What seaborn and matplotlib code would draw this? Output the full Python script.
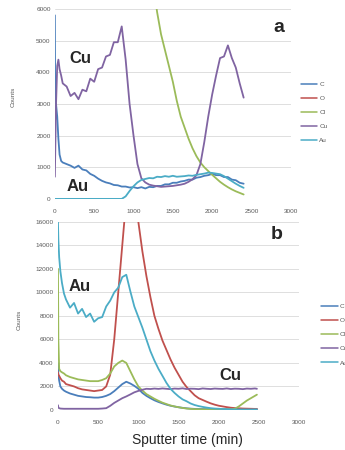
import numpy as np
import pandas as pd
import matplotlib
matplotlib.use('Agg')
import matplotlib.pyplot as plt
from matplotlib.lines import Line2D
import seaborn as sns

sns.set_style('white')
plt.rcParams['font.family'] = ['Liberation Sans', 'DejaVu Sans']

elements = ['C', 'O', 'Cl', 'Cu', 'Au']
colors = {'C': '#4A7EBB', 'O': '#C0504D', 'Cl': '#9BBB59', 'Cu': '#8064A2', 'Au': '#4BACC6'}
nan = np.nan

# ---- panel a ----
x_a = [0, 5, 15, 30, 45, 60, 80, 100, 150, 200, 250, 300, 350, 400, 450, 500,
       550, 600, 650, 700, 750, 800, 850, 900, 950, 1000, 1050, 1100, 1150, 1200,
       1250, 1300, 1350, 1400, 1450, 1500, 1550, 1600, 1650, 1700, 1750, 1800,
       1850, 1900, 1950, 2000, 2050, 2100, 2150, 2200, 2250, 2300, 2350, 2400]
c_a = [5800, 2500, 3000, 2600, 1900, 1400, 1200, 1150, 1100, 1050, 980, 1050, 930, 900,
       790, 730, 640, 570, 520, 490, 440, 430, 390, 390, 360, 370, 340, 370, 330, 380,
       370, 410, 410, 460, 460, 510, 510, 550, 570, 610, 610, 670, 690, 730, 750, 790,
       750, 750, 690, 690, 610, 590, 510, 480]
o_a = [nan] * len(x_a)
cl_a = [nan] * 29 + [7600, 6800, 5900, 5200, 4700, 4200, 3700, 3100, 2600, 2250, 1900,
                     1600, 1350, 1150, 1000, 880, 760, 650, 540, 450, 370, 300, 240,
                     190, 140]
cu_a = [700, 1500, 3000, 4200, 4400, 4100, 3900, 3650, 3550, 3250, 3350, 3150, 3450, 3400,
        3800, 3700, 4100, 4150, 4500, 4550, 4950, 4950, 5450, 4400, 3000, 2000, 1100,
        650, 520, 450, 420, 400, 380, 390, 400, 410, 430, 450, 480, 540, 620, 750,
        1100, 1800, 2600, 3300, 3900, 4450, 4500, 4850, 4450, 4150, 3650, 3200]
au_a = [0] * 23 + [80, 250, 400, 520, 600, 630, 660, 650, 700, 690, 720, 700, 730, 700,
                   710, 720, 740, 730, 760, 780, 800, 830, 820, 800, 780, 720, 640, 560,
                   480, 410, 350]

# ---- panel b ----
x_b = [0, 5, 15, 30, 50, 75, 100, 150, 200, 250, 300, 350, 400, 450, 500, 550, 600,
       650, 700, 750, 800, 850, 900, 950, 1000, 1050, 1100, 1150, 1200, 1250, 1300,
       1350, 1400, 1450, 1500, 1550, 1600, 1650, 1700, 1750, 1800, 1850, 1900, 1950,
       2000, 2050, 2100, 2150, 2200, 2250, 2300, 2350, 2400, 2450, 2475]
c_b = [4000, 3000, 2500, 2000, 1800, 1650, 1550, 1400, 1300, 1200, 1150, 1100, 1080,
       1050, 1050, 1100, 1200, 1350, 1600, 1900, 2200, 2400, 2250, 2050, 1800, 1450,
       1200, 1000, 820, 680, 560, 450, 360, 290, 230, 180, 140, 110, 90, 80, 75, 70,
       70, 65, 65, 60, 60, 60, 60, 60, 60, 60, 60, 60, 60]
o_b = [3200, 3000, 2900, 2700, 2500, 2400, 2200, 2100, 2000, 1850, 1750, 1700, 1650,
       1600, 1650, 1700, 2000, 3000, 6000, 10000, 14000, 18000, 21000, 20000, 16000,
       13500, 11400, 9600, 8000, 6900, 5900, 5100, 4300, 3600, 3000, 2400, 1950, 1600,
       1250, 1000, 850, 700, 560, 450, 360, 300, 240, 190, 160, 140, 120, 110, 100, 90, 90]
cl_b = [12000, 6000, 3500, 3300, 3200, 3100, 2950, 2800, 2700, 2600, 2550, 2500, 2450,
        2450, 2450, 2550, 2700, 3100, 3700, 4000, 4200, 4000, 3300, 2600, 2000, 1650,
        1350, 1150, 950, 780, 620, 500, 380, 300, 230, 170, 120, 90, 70, 60, 50, 50,
        50, 50, 50, 50, 50, 50, 100, 300, 550, 800, 1000, 1200, 1300]
cu_b = [400, 200, 150, 120, 110, 100, 100, 100, 100, 100, 100, 100, 100, 100, 100, 120,
        150, 350, 600, 800, 1000, 1150, 1320, 1500, 1620, 1720, 1800, 1780, 1820, 1790,
        1830, 1800, 1770, 1820, 1800, 1840, 1780, 1810, 1800, 1770, 1830, 1800, 1780,
        1820, 1800, 1790, 1830, 1780, 1810, 1800, 1770, 1820, 1800, 1830, 1800]
au_b = [16000, 14500, 13000, 11800, 10800, 9900, 9400, 8700, 9100, 8200, 8600, 7900,
        8200, 7500, 7800, 7900, 8800, 9300, 10000, 10400, 11300, 11500, 10100, 8800,
        7900, 7000, 6000, 5000, 4200, 3500, 2900, 2300, 1800, 1450, 1150, 900, 740,
        550, 420, 330, 260, 200, 150, 120, 100, 80, 60, 50, 40, 40, 40, 40, 40, 50, 50]

panels = [
    dict(x=x_a, vals=[c_a, o_a, cl_a, cu_a, au_a], rect=[0.159, 0.558, 0.684, 0.422],
         ymax=6000, ystep=1000, letter='a', letter_xy=(2850, 5400),
         labels=[('Cu', 330, 4450), ('Au', 290, 400)],
         leg=(0.855, 0.832), ylab=(13, 97)),
    dict(x=x_b, vals=[c_b, o_b, cl_b, cu_b, au_b], rect=[0.168, 0.089, 0.699, 0.418],
         ymax=16000, ystep=2000, letter='b', letter_xy=(2720, 14900),
         labels=[('Au', 270, 10500), ('Cu', 2150, 2900)],
         leg=(0.915, 0.338), ylab=(19, 320)),
]

fig = plt.figure(figsize=(3.45, 4.5), dpi=100)
grey = '#595959'

for p in panels:
    ax = fig.add_axes(p['rect'])
    rows = []
    for el, v in zip(elements, p['vals']):
        rows.append(pd.DataFrame({'time': p['x'], 'counts': v, 'element': el}))
    df = pd.concat(rows, ignore_index=True).dropna()
    sns.lineplot(data=df, x='time', y='counts', hue='element', palette=colors,
                 errorbar=None, sort=False, legend=False, linewidth=1.3, ax=ax)
    ax.set_xlim(0, 3000)
    ax.set_ylim(0, p['ymax'])
    ax.set_xticks(range(0, 3001, 500))
    ax.set_yticks(range(0, p['ymax'] + 1, p['ystep']))
    ax.tick_params(length=0, labelsize=4.6, labelcolor=grey)
    ax.tick_params(axis='x', pad=7)
    ax.tick_params(axis='y', pad=3)
    ax.grid(axis='y', color='#D9D9D9', linewidth=0.6)
    ax.grid(axis='x', visible=False)
    for s in ax.spines.values():
        s.set_visible(False)
    ax.set_xlabel('')
    ax.set_ylabel('')
    fig.text(p['ylab'][0] / 345, 1 - p['ylab'][1] / 450, 'Counts', fontsize=4.6,
             color=grey, rotation=90, ha='center', va='center')
    ax.text(*p['letter_xy'], p['letter'], fontsize=14, fontweight='bold',
            ha='center', va='center')
    for t, lx, ly in p['labels']:
        ax.text(lx, ly, t, fontsize=12, fontweight='bold', ha='center', va='center')
    handles = [Line2D([0], [0], color=colors[e], lw=1.1) for e in elements]
    ax.legend(handles, elements, loc='upper left', bbox_to_anchor=p['leg'],
              bbox_transform=fig.transFigure, frameon=False, fontsize=4.6,
              handlelength=2.6, handletextpad=0.3, labelspacing=1.35, labelcolor=grey)

fig.text(187 / 345, 1 - 440 / 450, 'Sputter time (min)', fontsize=10,
         ha='center', va='center')

fig.savefig('out.png', dpi=100)
